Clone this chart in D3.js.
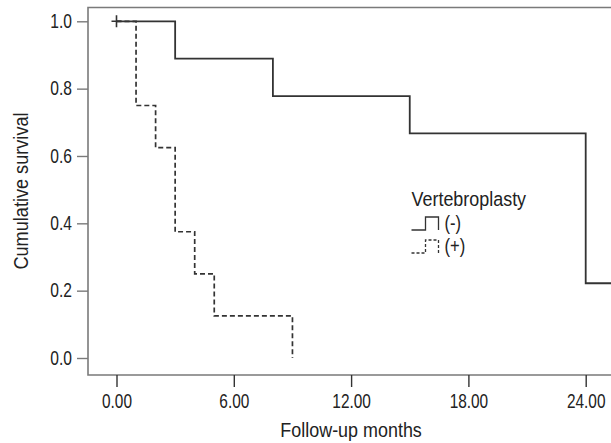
<!DOCTYPE html>
<html>
<head>
<meta charset="utf-8">
<script src="https://cdn.jsdelivr.net/npm/d3@7"></script>
<style>
  body { margin: 0; background: #fff; }
  svg text { font-family: "Liberation Sans", Arial, sans-serif; fill: #222; }
</style>
</head>
<body>
<svg id="chart" width="611" height="443"></svg>
<script>
// Kaplan-Meier steps
const groups = ['(-)', '(+)'];
const monthsNeg = [0, 3, 8, 15, 24, 26];
const survNeg = [1.0, 0.889, 0.778, 0.667, 0.222, 0.222];
const monthsPos = [0, 1, 2, 3, 4, 5, 9];
const survPos = [1.0, 0.75, 0.625, 0.375, 0.25, 0.125, 0.0];
const censorNeg = [[0, 1.0]];
const xTicks = [0, 6, 12, 18, 24];
const yTicks = [0, 0.2, 0.4, 0.6, 0.8, 1.0];

const svg = d3.select('#chart');

// plot frame (right side is cut off in the original)
const frame = { left: 88, top: 7.5, bottom: 375, right: 640 };

const x = d3.scaleLinear().domain([0, 24]).range([116.5, 585.7]);
const y = d3.scaleLinear().domain([0, 1]).range([358, 21.3]);

const axisColor = '#7a7a7a';

// squeeze text horizontally around its anchor point (original uses a condensed face)
function condense(sel, sx) {
  sel.each(function() {
    const t = d3.select(this);
    const ax = +t.attr('x') || 0;
    const ay = +t.attr('y') || 0;
    const prev = t.attr('transform') || '';
    t.attr('transform', `${prev} translate(${ax},${ay}) scale(${sx},1) translate(${-ax},${-ay})`);
  });
}

// frame lines
svg.append('path')
  .attr('d', `M${frame.right},${frame.top}H${frame.left}V${frame.bottom}H${frame.right}`)
  .attr('fill', 'none')
  .attr('stroke', axisColor)
  .attr('stroke-width', 1.6);

// y axis
const yAxis = svg.append('g')
  .attr('transform', `translate(${frame.left},0)`)
  .call(d3.axisLeft(y).tickValues(yTicks).tickFormat(d3.format('.1f')).tickSize(11).tickPadding(5));
yAxis.select('.domain').remove();
yAxis.selectAll('line').attr('stroke', axisColor).attr('stroke-width', 1.4);
yAxis.selectAll('text').style('font-size', '19.5px').attr('fill', '#222').call(condense, 0.8);

// x axis
const xAxis = svg.append('g')
  .attr('transform', `translate(0,${frame.bottom})`)
  .call(d3.axisBottom(x).tickValues(xTicks).tickFormat(d3.format('.2f')).tickSize(12).tickPadding(7));
xAxis.select('.domain').remove();
xAxis.selectAll('line').attr('stroke', '#333').attr('stroke-width', 1.4);
xAxis.selectAll('text').style('font-size', '19.5px').attr('fill', '#222').call(condense, 0.79);

// axis titles
svg.append('text')
  .attr('x', x(12))
  .attr('y', 437)
  .attr('text-anchor', 'middle')
  .style('font-size', '19.5px')
  .text('Follow-up months')
  .call(condense, 0.92);

svg.append('text')
  .attr('transform', 'translate(28,191) rotate(-90)')
  .attr('text-anchor', 'middle')
  .style('font-size', '19.5px')
  .text('Cumulative survival')
  .call(condense, 0.93);

// survival curves
const line = d3.line()
  .x(d => x(d[0]))
  .y(d => y(d[1]))
  .curve(d3.curveStepAfter);

const posData = monthsPos.map((m, i) => [m, survPos[i]]);
const negData = monthsNeg.map((m, i) => [m, survNeg[i]]);

svg.append('path')
  .datum(posData)
  .attr('d', line)
  .attr('fill', 'none')
  .attr('stroke', '#333')
  .attr('stroke-width', 1.7)
  .attr('stroke-dasharray', '5,3');

svg.append('path')
  .datum(negData)
  .attr('d', line)
  .attr('fill', 'none')
  .attr('stroke', '#333')
  .attr('stroke-width', 1.8);

// censor marks
svg.selectAll('.censor')
  .data(censorNeg)
  .enter()
  .append('path')
  .attr('class', 'censor')
  .attr('d', d => `M${x(d[0]) - 5},${y(d[1])}h10M${x(d[0])},${y(d[1]) - 6}v12`)
  .attr('stroke', '#333')
  .attr('stroke-width', 1.6);

// legend
const legend = svg.append('g').attr('transform', 'translate(411.5,0)');
legend.append('text')
  .attr('x', 0)
  .attr('y', 206)
  .style('font-size', '19.5px')
  .text('Vertebroplasty')
  .call(condense, 0.92);

const legendRows = legend.selectAll('.row')
  .data(groups)
  .enter()
  .append('g')
  .attr('class', 'row')
  .attr('transform', (d, i) => `translate(0,${230 + i * 23})`);

legendRows.append('path')
  .attr('d', 'M0,0H14V-13H27V0')
  .attr('fill', 'none')
  .attr('stroke', '#333')
  .attr('stroke-width', 1.3)
  .attr('stroke-dasharray', (d, i) => (i === 1 ? '3,2' : null));

legendRows.append('text')
  .attr('x', 33)
  .attr('y', 0)
  .style('font-size', '19.5px')
  .text(d => d)
  .call(condense, 0.85);
</script>
</body>
</html>
